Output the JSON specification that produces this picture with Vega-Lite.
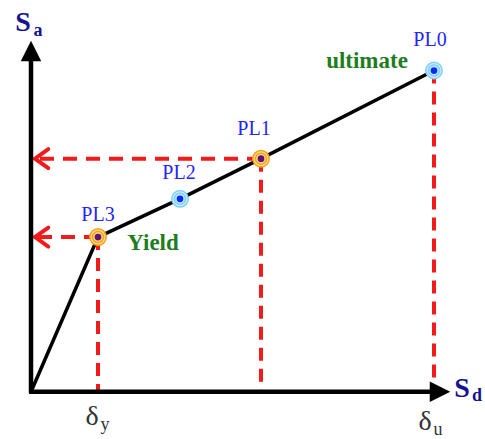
{
  "$schema": "https://vega.github.io/schema/vega-lite/v6.json",
  "width": 485,
  "height": 439,
  "autosize": {"type": "fit", "contains": "padding"},
  "padding": 0,
  "background": "white",
  "config": {"view": {"stroke": null}},
  "datasets": {
    "curve": [
      {"x": 0, "y": 0, "o": 0},
      {"x": 67, "y": 158, "o": 1},
      {"x": 149, "y": 197, "o": 2},
      {"x": 230, "y": 238, "o": 3},
      {"x": 403, "y": 328, "o": 4}
    ],
    "points": [
      {"label": "PL3", "x": 67, "y": 158},
      {"label": "PL2", "x": 149, "y": 197},
      {"label": "PL1", "x": 230, "y": 238},
      {"label": "PL0", "x": 403, "y": 328}
    ],
    "axes": [
      {"axis": "y", "x": 0, "y": -1, "x2": 0, "y2": 340},
      {"axis": "x", "x": -2, "y": 0, "x2": 400, "y2": 0}
    ],
    "tips": [
      {"axis": "x", "x": 409, "y": 0},
      {"axis": "y", "x": 0, "y": 348}
    ],
    "arrowTargets": [
      {"label": "PL1", "x": 4, "y": 238},
      {"label": "PL3", "x": 4, "y": 158}
    ],
    "labels": [
      {"kind": "pl", "text": "PL3", "x": 67, "y": 181},
      {"kind": "pl", "text": "PL2", "x": 148, "y": 223},
      {"kind": "pl", "text": "PL1", "x": 223, "y": 268},
      {"kind": "pl", "text": "PL0", "x": 399, "y": 359},
      {"kind": "state", "text": "ultimate", "x": 336, "y": 338},
      {"kind": "state", "text": "Yield", "x": 122, "y": 152},
      {"kind": "axis", "text": "S", "x": -8, "y": 377},
      {"kind": "axissub", "text": "a", "x": 7, "y": 368},
      {"kind": "axis", "text": "S", "x": 431, "y": 3},
      {"kind": "axissub", "text": "d", "x": 446, "y": -4},
      {"kind": "delta", "text": "δ", "x": 61, "y": -26},
      {"kind": "deltasub", "text": "y", "x": 74, "y": -34},
      {"kind": "delta", "text": "δ", "x": 394, "y": -31},
      {"kind": "deltasub", "text": "u", "x": 407, "y": -39}
    ]
  },
  "encoding": {
    "x": {"field": "x", "type": "quantitative", "scale": {"domain": [-31, 454], "nice": false, "zero": false}, "axis": null},
    "y": {"field": "y", "type": "quantitative", "scale": {"domain": [-39, 400], "nice": false, "zero": false}, "axis": null}
  },
  "layer": [
    {
      "data": {"name": "points"},
      "transform": [{"filter": "datum.label !== 'PL2'"}],
      "mark": {"type": "rule", "color": "#f21b1b", "strokeWidth": 4, "strokeDash": [13, 8]},
      "encoding": {"y2": {"datum": 0}}
    },
    {
      "data": {"name": "points"},
      "transform": [{"filter": "datum.label === 'PL1' || datum.label === 'PL3'"}],
      "mark": {"type": "rule", "color": "#f21b1b", "strokeWidth": 4, "strokeDash": [14, 9]},
      "encoding": {"x2": {"datum": 4}}
    },
    {
      "data": {"name": "arrowTargets"},
      "mark": {"type": "point", "shape": "M1.4,-1L0,0L1.4,1", "filled": false, "stroke": "#f21b1b", "strokeWidth": 4, "size": 360, "opacity": 1, "strokeCap": "round"},
      "encoding": {}
    },
    {
      "data": {"name": "axes"},
      "mark": {"type": "rule", "color": "black", "strokeWidth": 4.5},
      "encoding": {"x2": {"field": "x2"}, "y2": {"field": "y2"}}
    },
    {
      "data": {"name": "tips"},
      "mark": {"type": "point", "filled": true, "color": "black", "size": 420, "opacity": 1},
      "encoding": {
        "shape": {"field": "axis", "type": "nominal", "scale": {"domain": ["x", "y"], "range": ["M1,0L-1,-1L-1,1Z", "M0,-1L1,1L-1,1Z"]}, "legend": null}
      }
    },
    {
      "data": {"name": "curve"},
      "mark": {"type": "line", "color": "black", "strokeWidth": 3.5},
      "encoding": {"order": {"field": "o", "type": "quantitative"}}
    },
    {
      "data": {"name": "points"},
      "mark": {"type": "point", "filled": true, "size": 270, "opacity": 1, "strokeWidth": 1.5},
      "encoding": {
        "fill": {"field": "label", "type": "nominal", "scale": {"domain": ["PL0", "PL1", "PL2", "PL3"], "range": ["#c6ebff", "#ffd98a", "#c6ebff", "#ffd98a"]}, "legend": null},
        "stroke": {"field": "label", "type": "nominal", "scale": {"domain": ["PL0", "PL1", "PL2", "PL3"], "range": ["#7fd0ff", "#f7a21b", "#7fd0ff", "#f7a21b"]}, "legend": null}
      }
    },
    {
      "data": {"name": "points"},
      "mark": {"type": "point", "filled": false, "size": 120, "opacity": 1, "strokeWidth": 1.5},
      "encoding": {
        "stroke": {"field": "label", "type": "nominal", "scale": {"domain": ["PL0", "PL1", "PL2", "PL3"], "range": ["#4db8ff", "#f29100", "#4db8ff", "#f29100"]}, "legend": null}
      }
    },
    {
      "data": {"name": "points"},
      "mark": {"type": "point", "filled": true, "size": 45, "opacity": 1},
      "encoding": {
        "color": {"field": "label", "type": "nominal", "scale": {"domain": ["PL0", "PL1", "PL2", "PL3"], "range": ["#0a2bff", "#5e1470", "#0a2bff", "#5e1470"]}, "legend": null}
      }
    },
    {
      "data": {"name": "labels"},
      "transform": [{"filter": "datum.kind === 'pl'"}],
      "mark": {"type": "text", "font": "Liberation Serif", "fontSize": 20, "color": "#2424ff", "align": "center", "baseline": "middle"},
      "encoding": {"text": {"field": "text"}}
    },
    {
      "data": {"name": "labels"},
      "transform": [{"filter": "datum.kind === 'state'"}],
      "mark": {"type": "text", "font": "Liberation Serif", "fontSize": 23, "fontWeight": "bold", "color": "#1e7d1e", "align": "center", "baseline": "middle"},
      "encoding": {"text": {"field": "text"}}
    },
    {
      "data": {"name": "labels"},
      "transform": [{"filter": "datum.kind === 'axis'"}],
      "mark": {"type": "text", "font": "Liberation Serif", "fontSize": 28, "fontWeight": "bold", "color": "#14148c", "align": "center", "baseline": "middle"},
      "encoding": {"text": {"field": "text"}}
    },
    {
      "data": {"name": "labels"},
      "transform": [{"filter": "datum.kind === 'axissub'"}],
      "mark": {"type": "text", "font": "Liberation Serif", "fontSize": 18, "fontWeight": "bold", "color": "#14148c", "align": "center", "baseline": "middle"},
      "encoding": {"text": {"field": "text"}}
    },
    {
      "data": {"name": "labels"},
      "transform": [{"filter": "datum.kind === 'delta'"}],
      "mark": {"type": "text", "font": "Liberation Serif", "fontSize": 28, "color": "#333333", "align": "center", "baseline": "middle"},
      "encoding": {"text": {"field": "text"}}
    },
    {
      "data": {"name": "labels"},
      "transform": [{"filter": "datum.kind === 'deltasub'"}],
      "mark": {"type": "text", "font": "Liberation Serif", "fontSize": 18, "color": "#333333", "align": "center", "baseline": "middle"},
      "encoding": {"text": {"field": "text"}}
    }
  ]
}
